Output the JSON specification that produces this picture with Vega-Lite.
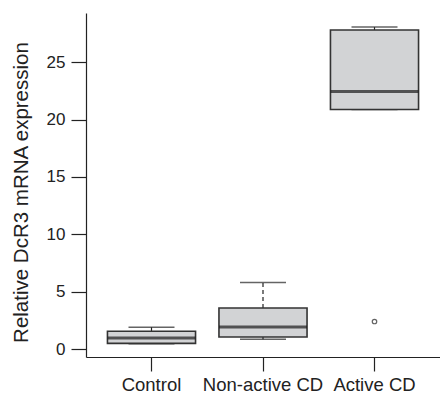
{
  "$schema": "https://vega.github.io/schema/vega-lite/v6.json",
  "autosize": "none",
  "width": 354,
  "height": 344,
  "padding": {"left": 86, "top": 13, "right": 0, "bottom": 37},
  "background": "white",
  "config": {
    "view": {"stroke": null},
    "font": "Liberation Sans",
    "axis": {"grid": false, "labelFont": "Liberation Sans", "titleFont": "Liberation Sans", "labelColor": "#222", "titleColor": "#222", "domainColor": "#222", "tickColor": "#222", "domainWidth": 1.2, "tickWidth": 1.2}
  },
  "datasets": {
    "boxes": [
      {"group": "Control", "lo": 0.47, "q1": 0.5, "med": 0.97, "q3": 1.55, "hi": 1.9},
      {"group": "Non-active CD", "lo": 0.85, "q1": 1.05, "med": 1.93, "q3": 3.58, "hi": 5.8},
      {"group": "Active CD", "lo": 20.87, "q1": 20.87, "med": 22.45, "q3": 27.8, "hi": 28.05}
    ],
    "outliers": [
      {"group": "Active CD", "value": 2.4}
    ]
  },
  "encoding": {
    "x": {
      "field": "group", "type": "nominal",
      "sort": ["Control", "Non-active CD", "Active CD"],
      "scale": {"paddingInner": 0, "paddingOuter": 0.0874},
      "axis": {"title": null, "labelAngle": 0, "labelFontSize": 18.5, "tickSize": 14, "labelPadding": 4, "domainWidth": 1.2}
    }
  },
  "layer": [
    {
      "data": {"name": "boxes"},
      "mark": {"type": "rule", "strokeDash": [4, 3], "color": "#222", "strokeWidth": 1.2},
      "encoding": {
        "y": {"field": "q3", "type": "quantitative",
          "scale": {"domain": [-0.69, 29.28], "nice": false, "zero": false},
          "axis": {"title": "Relative DcR3 mRNA expression", "values": [0, 5, 10, 15, 20, 25], "labelFontSize": 17, "titleFontSize": 20.5, "titleFontWeight": "normal", "titleY": 179, "tickSize": 15, "labelPadding": 6, "titlePadding": 15}},
        "y2": {"field": "hi"}
      }
    },
    {
      "data": {"name": "boxes"},
      "mark": {"type": "rule", "strokeDash": [4, 3], "color": "#222", "strokeWidth": 1.2},
      "encoding": {
        "y": {"field": "lo", "type": "quantitative"},
        "y2": {"field": "q1"}
      }
    },
    {
      "data": {"name": "boxes"},
      "mark": {"type": "tick", "size": 46, "thickness": 1.5, "color": "#222"},
      "encoding": {"y": {"field": "hi", "type": "quantitative"}}
    },
    {
      "data": {"name": "boxes"},
      "mark": {"type": "tick", "size": 46, "thickness": 1.5, "color": "#222"},
      "encoding": {"y": {"field": "lo", "type": "quantitative"}}
    },
    {
      "data": {"name": "boxes"},
      "mark": {"type": "bar", "width": {"band": 0.79}, "fill": "#d2d3d5", "stroke": "#333", "strokeWidth": 1.6},
      "encoding": {
        "y": {"field": "q1", "type": "quantitative"},
        "y2": {"field": "q3"}
      }
    },
    {
      "data": {"name": "boxes"},
      "mark": {"type": "tick", "size": 88, "thickness": 3, "color": "#1a1a1a"},
      "encoding": {"y": {"field": "med", "type": "quantitative"}}
    },
    {
      "data": {"name": "outliers"},
      "mark": {"type": "point", "shape": "circle", "size": 20, "filled": false, "color": "#222", "strokeWidth": 1.2},
      "encoding": {"y": {"field": "value", "type": "quantitative"}}
    }
  ]
}
